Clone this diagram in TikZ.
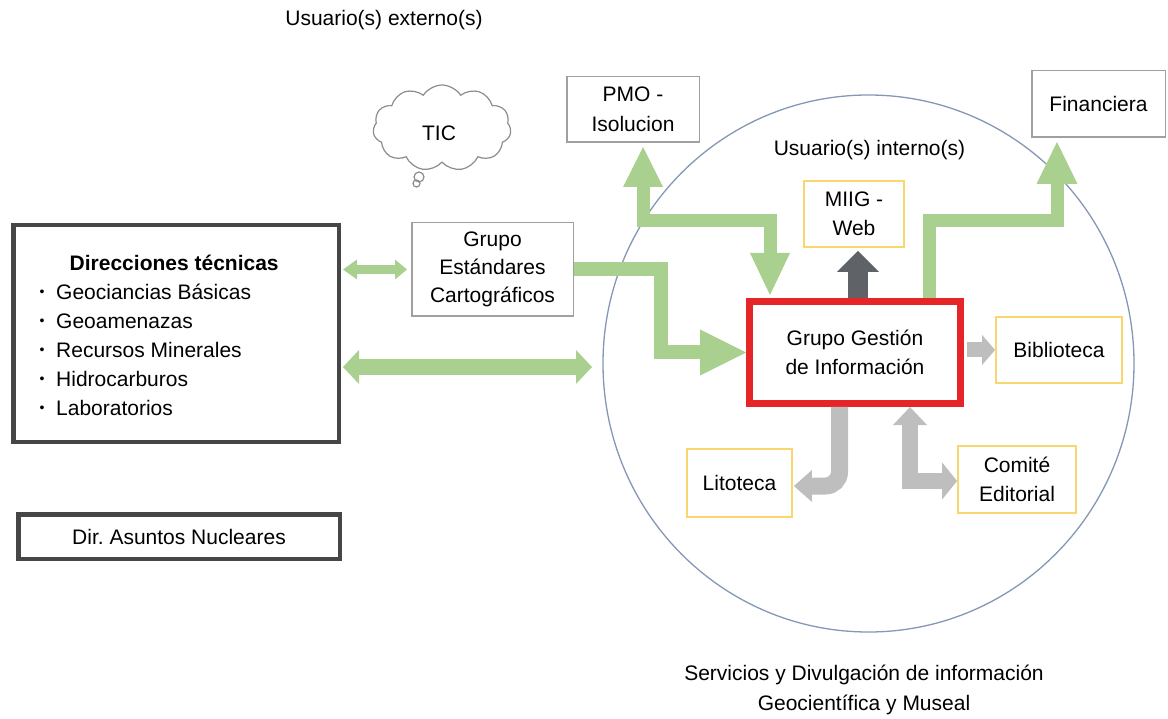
\documentclass[tikz,border=0pt]{standalone}
\usepackage{fontspec}
\setmainfont{Liberation Sans}
\usetikzlibrary{arrows.meta,shapes.symbols,calc}
\definecolor{agreen}{RGB}{169,208,142}
\definecolor{agray}{RGB}{190,190,190}
\definecolor{adark}{RGB}{95,99,104}
\definecolor{boxgray}{RGB}{160,160,160}
\definecolor{darkedge}{RGB}{70,70,70}
\definecolor{yedge}{RGB}{250,215,110}
\definecolor{redge}{RGB}{230,37,40}
\definecolor{circcol}{RGB}{132,151,180}
\definecolor{cloudcol}{RGB}{140,140,140}
\frenchspacing
\begin{document}
\begin{tikzpicture}[x=1pt,y=-1pt,
  every node/.style={font=\fontsize{21}{29}\selectfont, inner sep=0pt},
  thinbox/.style={draw=boxgray, line width=1.5pt, fill=white, align=center},
  ybox/.style={draw=yedge, line width=1.8pt, fill=white, align=center},
  dbox/.style={draw=darkedge, line width=4.5pt, fill=white, align=center},
  redbox/.style={draw=redge, line width=7pt, fill=white, align=center},
  garrow/.style={draw=agreen, line width=#1, line join=miter},
  grarrow/.style={draw=agray, line width=#1, line join=miter},
  dkarrow/.style={draw=adark, line width=#1, line join=miter}
]
\useasboundingbox (0,0) rectangle (1168,719);

% large circle
\draw[circcol, line width=1.3pt] (868.5,363.5) ellipse [x radius=265.5pt, y radius=268.5pt];

% texts
\node (ext) at (384,20) {Usuario(s) externo(s)};
\node (int) at (869.5,150) {Usuario(s) interno(s)};
\node[align=center, font=\fontsize{21}{30}\selectfont] (serv) at (864,690) {Servicios y Divulgación de información\\Geocientífica y Museal};

% cloud
\node[cloud, cloud puffs=11, cloud puff arc=115, aspect=1.6, draw=cloudcol, line width=1.2pt,
      minimum width=138pt, minimum height=86pt] (tic) at (442,128) {};
\node (tictext) at (439,133) {TIC};
\draw[cloudcol, line width=1.2pt] (419,177) circle [radius=5pt];
\draw[cloudcol, line width=1.2pt] (416.5,183.5) circle [radius=3.5pt];

% boxes
\node[dbox, minimum width=325.5pt, minimum height=216.5pt] (dir) at (176,333.5) {};
\node[anchor=base] (dtitle) at (174.2,270.7) {\textbf{Direcciones técnicas}};
\foreach \t [count=\i] in {Geociancias Básicas,Geoamenazas,Recursos Minerales,Hidrocarburos,Laboratorios}{
  \node[anchor=base, font=\fontsize{14}{14}\selectfont] (b\i) at (42,{268+29*\i}) {•};
  \node[anchor=base west] (it\i) at (56,{270.5+29*\i}) {\t};
}
\node[dbox, minimum width=321.5pt, minimum height=44.5pt] (dan) at (179,536.5) {Dir. Asuntos Nucleares};
\node[thinbox, minimum width=161.5pt, minimum height=93.5pt, font=\fontsize{21}{28}\selectfont] (gec) at (492.5,269.5) {Grupo\\Estándares\\Cartográficos};
\node[thinbox, minimum width=132.5pt, minimum height=65.5pt, font=\fontsize{21}{30}\selectfont] (pmo) at (633,109.5) {PMO -\\Isolucion};
\node[thinbox, minimum width=133.5pt, minimum height=66.5pt] (fin) at (1098.5,104) {Financiera};
\node[ybox, minimum width=100pt, minimum height=66pt] (miig) at (854,214) {MIIG -\\Web};
\node[redbox, minimum width=211pt, minimum height=102pt] (gest) at (855,352.5) {Grupo Gestión\\de Información};
\node[ybox, minimum width=126pt, minimum height=66pt] (bib) at (1059,350) {Biblioteca};
\node[ybox, minimum width=105pt, minimum height=68pt] (lit) at (739.5,483) {Litoteca};
\node[ybox, minimum width=118pt, minimum height=67pt] (com) at (1017,479.5) {Comité\\Editorial};

% green arrows
\draw[garrow=9pt, {Triangle[length=14pt,width=20pt,line width=0pt]}-{Triangle[length=12pt,width=20pt,line width=0pt]},
      shorten <=2pt, shorten >=4pt] (dir.east |- gec.west) -- (gec.west);
\coordinate (bigR) at (592,367);
\draw[garrow=16pt, {Triangle[length=16pt,width=34pt,line width=0pt]}-{Triangle[length=16pt,width=34pt,line width=0pt]},
      shorten <=2pt] (dir.east |- bigR) -- (bigR);
\draw[garrow=14pt, -{Triangle[length=46pt,width=46pt,line width=0pt]}]
      (gec.east) -| ($(gest.west)+(-85,0)$) -- (gest.west);
\coordinate (tj) at (643,221);
\draw[garrow=13pt, -{Triangle[length=40pt,width=40pt,line width=0pt]}]
      ($(tj)+(0,6.5)$) -- ($(pmo.south -| tj)+(0,4)$);
\coordinate (t2) at ($(gest.north)+(-85,-3)$);
\draw[garrow=13pt, -{Triangle[length=42pt,width=40pt,line width=0pt]}]
      ($(tj)+(-6.5,0)$) -| (t2);
\coordinate (f1) at ($(gest.north)+(74,0)$);
\coordinate (f2) at (1057,221);
\draw[garrow=13pt, -{Triangle[length=42pt,width=41pt,line width=0pt]}]
      (f1) |- (f2) -- ($(fin.south -| f2)+(0,4)$);

% grey arrows
\draw[dkarrow=20pt, -{Triangle[length=21pt,width=42pt,line width=0pt]}]
      ($(gest.north)+(3,0)$) -- ($(miig.south -| gest.north)+(3,3)$);
\draw[grarrow=15pt, -{Triangle[length=13pt,width=30pt,line width=0pt]}, shorten <=3pt]
      (gest.east |- bib.west) -- (bib.west);
\coordinate (l1) at ($(gest.south)+(-15.5,0)$);
\coordinate (l2) at (839.5,486);
\draw[grarrow=17pt, rounded corners=14pt, -{Triangle[length=18pt,width=32pt,line width=0pt]}]
      (l1) -- (l2) -- ($(lit.east |- l2)+(1,0)$);
\coordinate (c1) at ($(gest.south)+(55,0)$);
\draw[grarrow=16pt, {Triangle[length=18pt,width=34pt,line width=0pt]}-{Triangle[length=15pt,width=37pt,line width=0pt]}]
      (c1) |- ($(com.west)+(0,1.5)$);
\end{tikzpicture}
\end{document}
